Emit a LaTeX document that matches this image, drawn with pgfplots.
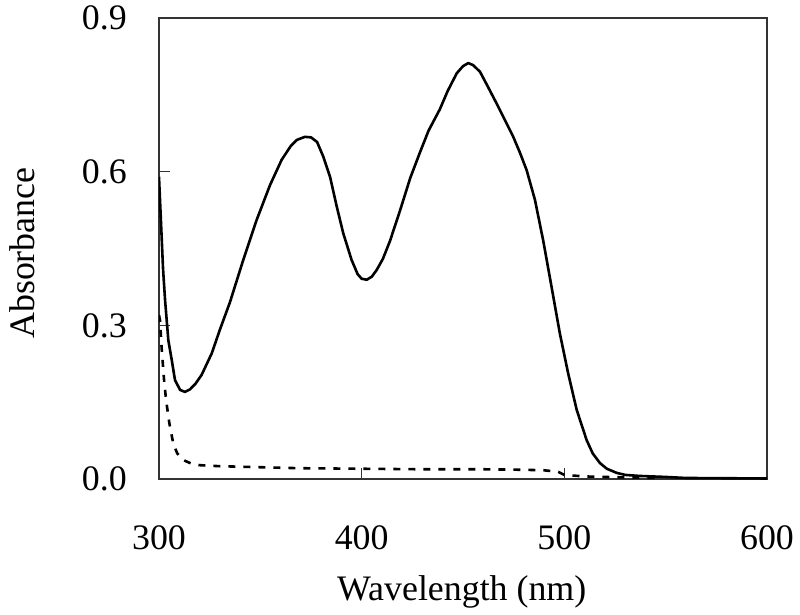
\documentclass[border=0pt]{standalone}
\usepackage{pgfplots}
\pgfplotsset{compat=1.18}
\usepackage{fontspec}
\setmainfont{Liberation Serif}
\newcommand{\bigf}{\fontsize{36}{43}\selectfont}
\begin{document}
\begin{tikzpicture}
\path[use as bounding box] (-159bp,-136bp) rectangle (641bp,479bp);
\begin{axis}[
  at={(0,0)}, anchor=south west,
  scale only axis,
  width=608bp, height=461bp,
  xmin=300, xmax=600, ymin=0, ymax=0.9,
  xtick={300,400,500,600}, xticklabels={300,400,500,600},
  ytick={0,0.3,0.6,0.9}, yticklabels={0.0,0.3,0.6,0.9},
  xtick pos=bottom, ytick pos=left,
  tick align=inside,
  major tick length=11bp,
  tick style={line width=0.9bp, black!80},
  axis line style={line width=1.2bp, black!80},
  tick label style={font=\bigf},
  xticklabel style={inner sep=0pt, anchor=north, yshift=-46bp},
  yticklabel style={inner sep=0pt, anchor=east, xshift=-32bp},
  xlabel={Wavelength (nm)}, ylabel={Absorbance},
  label style={font=\bigf},
  xlabel style={at={(axis description cs:0.498,-0.245)}, anchor=center},
  ylabel style={at={(axis description cs:-0.2253,0.49)}, anchor=center, rotate=0},
  clip=true,
]
\addplot[black, line width=2.6bp, line join=round] coordinates {
(300,0.59) (301,0.50) (302,0.41) (303,0.349) (304.6,0.271) (306.3,0.232)
(307.9,0.193) (310.4,0.174) (312.8,0.170) (315.3,0.175) (318,0.186)
(321,0.203) (326,0.245) (330,0.291) (335,0.345) (341.6,0.428)
(348.2,0.506) (354.8,0.574) (360.5,0.623) (365,0.650) (368,0.662)
(372,0.668) (375,0.667) (378,0.658) (381,0.630) (384.4,0.590)
(387.7,0.532) (390.9,0.480) (395,0.428) (398,0.400) (400,0.391)
(402.5,0.389) (405,0.395) (407.4,0.408) (410.5,0.430) (414,0.465)
(419,0.525) (424,0.588) (428.8,0.638) (433,0.680) (438.6,0.722)
(442.5,0.758) (446.9,0.792)
(450,0.806) (452.6,0.812) (455,0.808) (458.4,0.795) (462,0.768)
(466.6,0.733) (470,0.706) (474.8,0.668) (478,0.638) (481.4,0.603) (485.5,0.545)
(489.6,0.465) (493.7,0.375) (497.8,0.284) (501.9,0.206) (506.1,0.135)
(511,0.076) (514,0.050) (517.6,0.031) (521,0.020) (525.8,0.012)
(530,0.008) (537,0.006) (550,0.004) (560,0.002) (600,0.001)
};
\addplot[black, line width=2.6bp, dash pattern=on 7bp off 8bp] coordinates {
(300,0.32) (300.5,0.31) (301.3,0.256) (302.5,0.193) (303.5,0.154)
(305.1,0.109) (307,0.070) (309,0.050) (312,0.037) (316,0.030)
(320,0.027) (330,0.025) (350,0.023) (370,0.021) (400,0.020)
(430,0.019) (460,0.019) (480,0.018) (490,0.017) (497,0.014)
(500,0.008) (510,0.005) (520,0.004) (530,0.003) (545,0.002)
};
\end{axis}
\end{tikzpicture}
\end{document}
